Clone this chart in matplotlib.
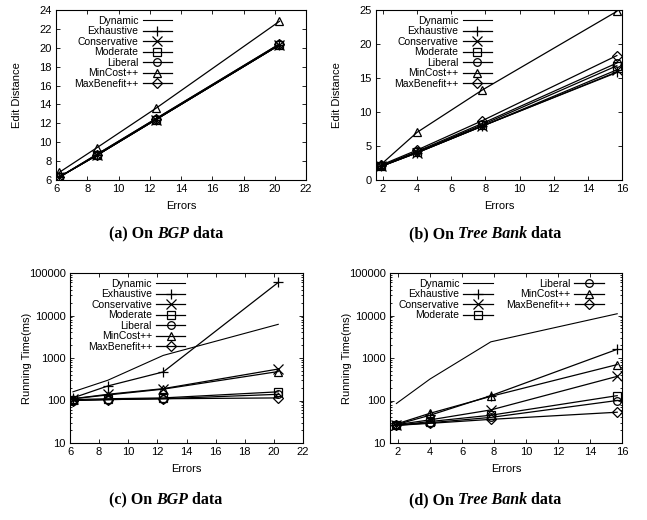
import matplotlib
matplotlib.use("Agg")
import matplotlib.pyplot as plt
from matplotlib.ticker import FixedLocator, LogLocator, NullFormatter, FuncFormatter

plt.rcParams["font.family"] = ["Liberation Sans", "DejaVu Sans"]

METHODS = ["Dynamic", "Exhaustive", "Conservative", "Moderate",
           "Liberal", "MinCost++", "MaxBenefit++"]
MARKERS = ["", "+", "x", "s", "o", "^", "D"]

# errors on the x axis
bgp_errors = [6.2, 8.6, 12.4, 20.3]
tree_errors = [1.9, 4.0, 7.8, 15.7]

# edit distance, BGP
bgp_edit = {
    "Dynamic": [6.3, 8.6, 12.4, 20.3],
    "Exhaustive": [6.3, 8.6, 12.4, 20.3],
    "Conservative": [6.3, 8.6, 12.4, 20.3],
    "Moderate": [6.3, 8.6, 12.4, 20.3],
    "Liberal": [6.3, 8.7, 12.5, 20.4],
    "MinCost++": [6.8, 9.4, 13.6, 22.8],
    "MaxBenefit++": [6.3, 8.7, 12.5, 20.4],
}

# edit distance, Tree Bank
tree_edit = {
    "Dynamic": [2.0, 4.0, 7.9, 15.8],
    "Exhaustive": [2.0, 4.0, 7.9, 15.9],
    "Conservative": [2.0, 4.0, 7.9, 16.2],
    "Moderate": [2.0, 4.1, 8.1, 16.8],
    "Liberal": [2.1, 4.2, 8.3, 17.2],
    "MinCost++": [2.3, 7.0, 13.2, 24.8],
    "MaxBenefit++": [2.2, 4.4, 8.7, 18.3],
}

# running time (ms), BGP
bgp_time = {
    "Dynamic": [160, 300, 1150, 6200],
    "Exhaustive": [115, 220, 470, 60000],
    "Conservative": [110, 140, 190, 550],
    "Moderate": [105, 110, 115, 160],
    "Liberal": [100, 105, 110, 140],
    "MinCost++": [110, 135, 185, 480],
    "MaxBenefit++": [100, 105, 110, 115],
}

# running time (ms), Tree Bank
tree_time = {
    "Dynamic": [85, 320, 2400, 11000],
    "Exhaustive": [27, 45, 130, 1600],
    "Conservative": [27, 35, 60, 370],
    "Moderate": [26, 32, 45, 130],
    "Liberal": [26, 30, 40, 100],
    "MinCost++": [28, 50, 125, 700],
    "MaxBenefit++": [26, 29, 36, 53],
}

CAPTIONS = [("(a) On ", "BGP", " data"), ("(b) On ", "Tree Bank", " data"),
            ("(c) On ", "BGP", " data"), ("(d) On ", "Tree Bank", " data")]

W, H = 647, 520
fig = plt.figure(figsize=(W / 100, H / 100), dpi=100)


def px_axes(l, t, r, b):
    ax = fig.add_axes([l / W, 1 - b / H, (r - l) / W, (b - t) / H])
    ax._px = (l, r)
    return ax


def draw(ax, xs, data, ylabel, ylab_x, ncol=1):
    for name, mk in zip(METHODS, MARKERS):
        ax.plot(xs, data[name], color="black", lw=0.9 if mk else 0.8,
                marker=mk if mk else None, markersize=6.5 if mk in "+x" else 5.5,
                markerfacecolor="none", markeredgecolor="black",
                markeredgewidth=0.9, label=name)
    ax.tick_params(direction="in", which="both", top=True, right=True,
                   labelsize=8, length=3, width=0.6, pad=3)
    ax.tick_params(which="minor", length=1.5)
    for s in ax.spines.values():
        s.set_linewidth(0.8)
    ax.set_xlabel("Errors", fontsize=8, labelpad=5)
    ax.set_ylabel(ylabel, fontsize=8)
    l, r = ax._px
    ax.yaxis.set_label_coords((ylab_x + 5 - l) / (r - l), 0.5)
    ax.legend(loc="upper left", bbox_to_anchor=(0.04 if ncol == 1 else 0.0, 1.015),
              frameon=False, markerfirst=False, fontsize=7.5, ncol=ncol,
              handlelength=2.8, handletextpad=0.4, labelspacing=0.05,
              columnspacing=1.3, borderpad=0.3)


ax_a = px_axes(56, 10, 306, 180)
draw(ax_a, bgp_errors, bgp_edit, "Edit Distance", 17)
ax_a.set_xlim(6, 22)
ax_a.set_ylim(6, 24)
ax_a.xaxis.set_major_locator(FixedLocator(range(6, 23, 2)))
ax_a.yaxis.set_major_locator(FixedLocator(range(6, 25, 2)))

ax_b = px_axes(376, 10, 622, 180)
draw(ax_b, tree_errors, tree_edit, "Edit Distance", 337)
ax_b.set_xlim(1.6, 16)
ax_b.set_ylim(0, 25)
ax_b.xaxis.set_major_locator(FixedLocator(range(2, 17, 2)))
ax_b.yaxis.set_major_locator(FixedLocator(range(0, 26, 5)))

fmt = FuncFormatter(lambda v, p: f"{int(round(v))}")

ax_c = px_axes(70, 273, 303, 443)
draw(ax_c, bgp_errors, bgp_time, "Running Time(ms)", 27)
ax_c.set_yscale("log")
ax_c.set_xlim(6, 22)
ax_c.xaxis.set_major_locator(FixedLocator(range(6, 23, 2)))

ax_d = px_axes(390, 273, 622, 443)
draw(ax_d, tree_errors, tree_time, "Running Time(ms)", 347, ncol=2)
ax_d.set_yscale("log")
ax_d.set_xlim(1.5, 16)
ax_d.xaxis.set_major_locator(FixedLocator(range(2, 17, 2)))

for ax in (ax_c, ax_d):
    ax.set_ylim(10, 100000)
    ax.yaxis.set_major_locator(LogLocator(base=10))
    ax.yaxis.set_minor_locator(LogLocator(base=10, subs=range(2, 10)))
    ax.yaxis.set_major_formatter(fmt)
    ax.yaxis.set_minor_formatter(NullFormatter())

# captions with italic dataset names
renderer = fig.canvas.get_renderer()
cap_pos = [(166, 234), (485, 234), (166, 500), (485, 500)]
for (pre, it, post), (cx, cy) in zip(CAPTIONS, cap_pos):
    texts, widths = [], []
    for s, st in [(pre, "normal"), (it, "italic"), (post, "normal")]:
        tt = fig.text(0, 1 - cy / H, s, family="Liberation Serif", weight="bold",
                      style=st, fontsize=11.5, va="center", ha="left")
        texts.append(tt)
        widths.append(tt.get_window_extent(renderer).width)
    x = cx - sum(widths) / 2
    for tt, w in zip(texts, widths):
        tt.set_x(x / W)
        x += w

fig.savefig("out.png", dpi=100)
